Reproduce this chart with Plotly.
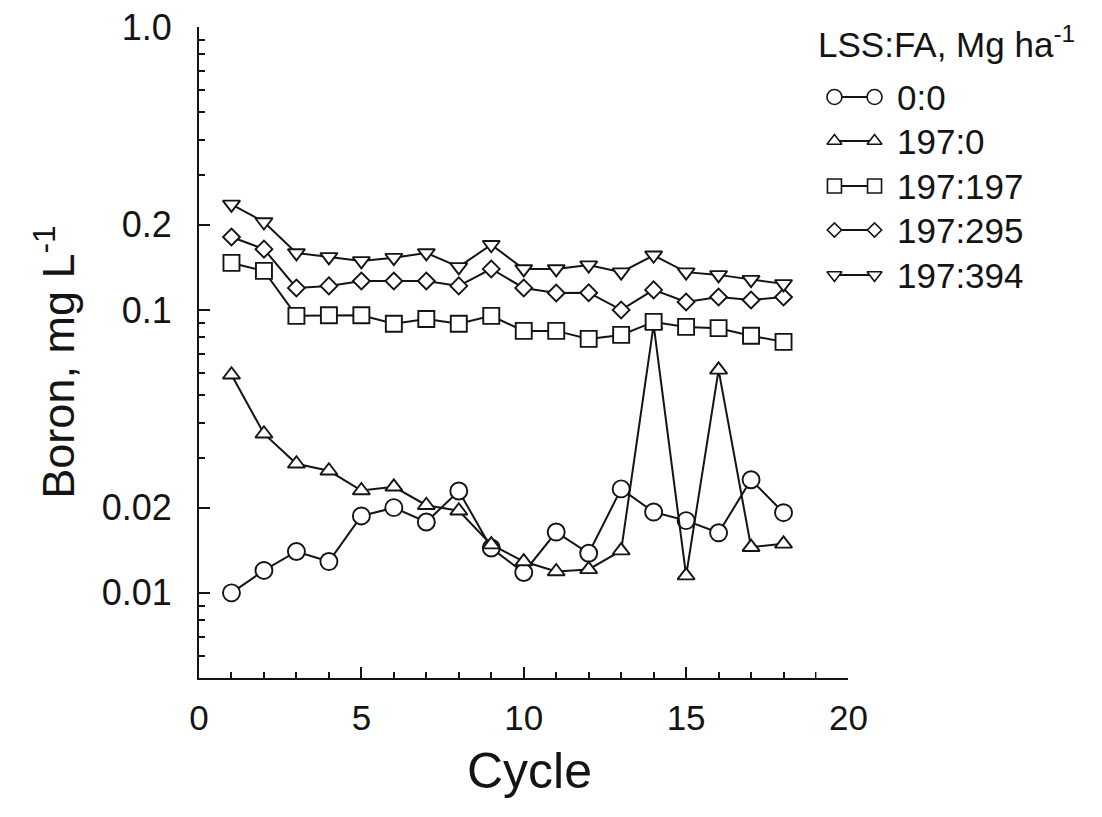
import plotly.graph_objects as go

# ---------------- data ----------------
cycles = list(range(1, 19))
boron_0_0 = [0.0100, 0.0120, 0.0140, 0.0129, 0.0187, 0.0200, 0.0178, 0.0229, 0.0144,
             0.0118, 0.0164, 0.0138, 0.0233, 0.0193, 0.0180, 0.0163, 0.0251, 0.0192]
boron_197_0 = [0.0590, 0.0365, 0.0286, 0.0270, 0.0230, 0.0237, 0.0204, 0.0195, 0.0148,
               0.0129, 0.0119, 0.0121, 0.0141, 0.0885, 0.0115, 0.0614, 0.0145, 0.0149]
boron_197_197 = [0.1466, 0.1374, 0.0953, 0.0957, 0.0957, 0.0893, 0.0929, 0.0893, 0.0953,
                 0.0843, 0.0843, 0.0790, 0.0816, 0.0907, 0.0871, 0.0862, 0.0810, 0.0771]
boron_197_295 = [0.181, 0.164, 0.1196, 0.1216, 0.1265, 0.1265, 0.1265, 0.1216, 0.1396,
                 0.1196, 0.1148, 0.1150, 0.1000, 0.1177, 0.1067, 0.1111, 0.1084, 0.1111]
boron_197_394 = [0.236, 0.2046, 0.159, 0.154, 0.149, 0.153, 0.159, 0.142, 0.170,
                 0.1396, 0.1396, 0.144, 0.136, 0.156, 0.136, 0.133, 0.128, 0.1236]

series_names = ["0:0", "197:0", "197:197", "197:295", "197:394"]
series_values = [boron_0_0, boron_197_0, boron_197_197, boron_197_295, boron_197_394]

y_tick_vals = [0.01, 0.02, 0.1, 0.2, 1.0]
y_tick_text = ["0.01", "0.02", "0.1", "0.2", "1.0"]
x_tick_vals = [0, 5, 10, 15, 20]

# ---------------- styling ----------------
symbols = ["circle", "triangle-up", "square", "diamond", "triangle-down"]
sizes = [17, 15, 16, 13, 15]
INK = "#141414"
FONT = "Liberation Sans, Arial, Helvetica, sans-serif"

W, H = 1102, 817
ML, MR, MT, MB = 199, 5, 27, 139
PW = 877            # effective plot-area width as rendered
PH = H - MT - MB
x_dom_end = (847 - ML) / PW
leg_left = 815
leg_dom_start = (leg_left - ML) / PW
leg_range = ML + PW - leg_left

fig = go.Figure()

for name, vals, sym, sz in zip(series_names, series_values, symbols, sizes):
    fig.add_trace(go.Scatter(
        x=cycles, y=vals, mode="lines+markers", name=name, showlegend=False,
        line=dict(color=INK, width=2),
        marker=dict(symbol=sym, size=sz, color="white",
                    line=dict(color=INK, width=1.9)),
        xaxis="x", yaxis="y",
    ))

# ---------------- custom legend (marker—marker samples) ----------------
leg_row_y = [70, 114, 159, 203, 248]  # pixels from top of plot area
leg_x0, leg_x1, leg_text_x = 18, 58, 78
for name, sym, sz, ry in zip(series_names, symbols, sizes, leg_row_y):
    fig.add_trace(go.Scatter(
        x=[leg_x0, leg_x1], y=[ry, ry], mode="lines+markers", showlegend=False,
        line=dict(color=INK, width=1.8),
        marker=dict(symbol=sym, size=sz - 2, color="white",
                    line=dict(color=INK, width=1.6)),
        xaxis="x2", yaxis="y2", hoverinfo="skip",
    ))
    fig.add_annotation(x=leg_text_x, y=ry, xref="x2", yref="y2", text=name,
                       showarrow=False, xanchor="left", yanchor="middle",
                       font=dict(family=FONT, size=35, color=INK))

fig.add_annotation(x=0, y=15, xref="x2", yref="y2", text="LSS:FA, Mg ha<sup>-1</sup>",
                   showarrow=False, xanchor="left", yanchor="middle",
                   font=dict(family=FONT, size=35, color=INK))

# ---------------- axis titles ----------------
fig.add_annotation(x=(55 - ML) / PW, y=(MT + PH - 362) / PH, xref="paper", yref="paper",
                   text="Boron, mg L<sup>-1</sup>", textangle=-90, showarrow=False,
                   xanchor="center", yanchor="middle",
                   font=dict(family=FONT, size=45, color=INK))
fig.add_annotation(x=(529 - ML) / PW, y=(MT + PH - 771) / PH, xref="paper", yref="paper",
                   text="Cycle", showarrow=False, xanchor="center", yanchor="middle",
                   font=dict(family=FONT, size=50, color=INK))

minor_y = [k * 10.0 ** e for e in (-3, -2, -1) for k in range(2, 10)
           if k * 10.0 ** e >= 0.0049 and round(k * 10.0 ** e, 6) not in (0.02, 0.2)]

fig.update_layout(
    width=W, height=H,
    margin=dict(l=ML, r=MR, t=MT, b=MB, pad=0),
    paper_bgcolor="white", plot_bgcolor="white",
    font=dict(family=FONT, color=INK),
    xaxis=dict(
        domain=[0, x_dom_end], range=[0, 20], showgrid=False, zeroline=False,
        showline=True, linecolor=INK, linewidth=2,
        tickvals=x_tick_vals, ticks="inside", ticklen=11, tickwidth=2, tickcolor=INK,
        tickfont=dict(family=FONT, size=35, color=INK), ticklabelstandoff=8,
        minor=dict(dtick=1, ticks="inside", ticklen=6, tickwidth=1.5, tickcolor=INK, showgrid=False),
        anchor="y",
    ),
    yaxis=dict(
        type="log", range=[-2.30103, 0], showgrid=False, zeroline=False,
        showline=True, linecolor=INK, linewidth=2,
        tickvals=y_tick_vals, ticktext=y_tick_text, ticks="inside", ticklen=11,
        tickwidth=2, tickcolor=INK,
        tickfont=dict(family=FONT, size=36, color=INK), ticklabelstandoff=18,
        minor=dict(tickvals=minor_y, ticks="inside", ticklen=6, tickwidth=1.5, tickcolor=INK, showgrid=False),
        anchor="x",
    ),
    xaxis2=dict(domain=[leg_dom_start, 1.0], range=[0, leg_range], visible=False,
                anchor="y2", fixedrange=True),
    yaxis2=dict(domain=[0, 1], range=[PH, 0], visible=False, anchor="x2", fixedrange=True),
)

fig.write_html("out.html")
